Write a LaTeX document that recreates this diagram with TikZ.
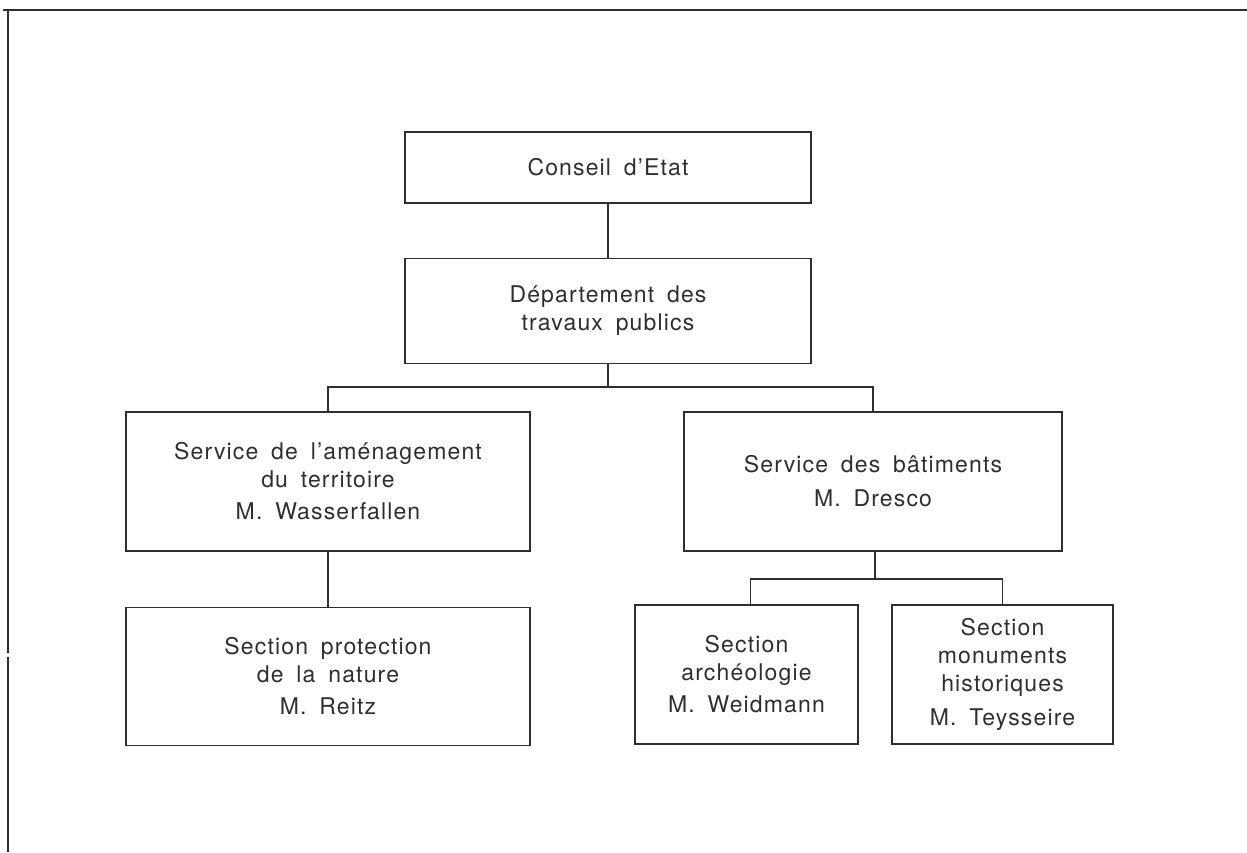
\documentclass[tikz,border=0pt]{standalone}
\usepackage{fontspec}
\setsansfont{TeX Gyre Heros}[WordSpace=1.7, LetterSpace=5]
\usepackage{xcolor}
\usepackage{tikz}
\usetikzlibrary{positioning}
\definecolor{ink}{HTML}{2E2E2E}

\begin{document}
\begin{tikzpicture}[
    x=1pt, y=-1pt,
    every node/.style={font=\sffamily\fontsize{23}{28}\selectfont, text=ink},
    unit/.style={rectangle, draw=ink, line width=1.2pt, align=center, inner sep=0pt},
    section/.style={unit, line width=2.2pt},
    link/.style={draw=ink, line width=1.2pt},
    node distance=54pt % gap between the upper boxes
]
\useasboundingbox (0,0) rectangle (1247,852);

% Frame of the page
\draw[ink, line width=1.6pt] (3,10) -- (1247,10);
\draw[ink, line width=1.4pt] (8,10) -- (8,653);
\draw[ink, line width=1.4pt] (8,657) -- (8,852);

% Nodes
\node[unit, minimum width=406pt, minimum height=71pt] (conseil) at (608,167.5) {Conseil d'Etat};
\node[unit, minimum width=406pt, minimum height=105pt] (dtp) [below=of conseil] {Département des\\travaux publics};
\node[unit, minimum width=404pt, minimum height=139pt] (amenag) at (328,481.5) {Service de l'aménagement\\du territoire\\[4pt]M. Wasserfallen};
\node[unit, minimum width=378pt, minimum height=139pt] (batim) at (873,481.5) {Service des bâtiments\\[6pt]M. Dresco};
\node[unit, minimum width=404pt, minimum height=138pt] (nature) [below=55pt of amenag] {Section protection\\de la nature\\[4pt]M. Reitz};
\node[section, minimum width=223pt, minimum height=139pt] (archeo) at (746.5,674.5) {Section\\archéologie\\[4pt]M. Weidmann};
\node[section, minimum width=221pt, minimum height=139pt] (monum) at (1002.5,674.5) {Section\\monuments\\historiques\\[6pt]M. Teysseire};

% Branch points
\coordinate (bar1) at (608,387);
\coordinate (bar2) at (875,579);

% Connectors
\draw[link] (conseil) -- (dtp);
\draw[link] (dtp) -- (bar1);
\draw[link] (amenag.north) |- (bar1) -| (batim.north);
\draw[link] (amenag) -- (nature);
\draw[link] (batim.south -| bar2) -- (bar2);
\draw[link] ([xshift=4pt] archeo.north) |- (bar2) -| (monum.north);

\end{tikzpicture}
\end{document}
